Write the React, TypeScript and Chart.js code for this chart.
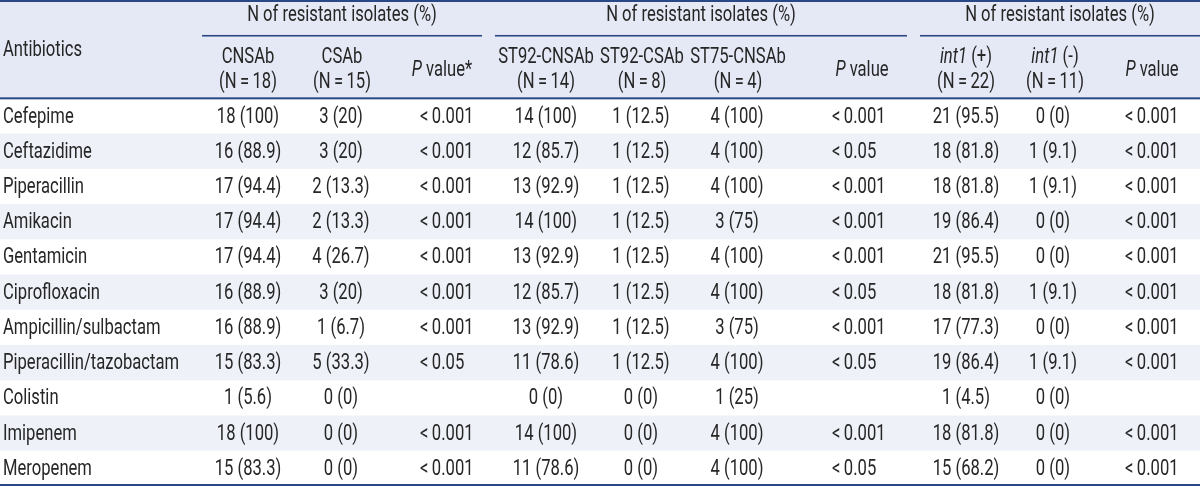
import React, { useEffect, useRef } from "react";
import { Chart, registerables } from "chart.js";

Chart.register(...registerables);

// ---------------- data ----------------
const antibiotics = [
  "Cefepime",
  "Ceftazidime",
  "Piperacillin",
  "Amikacin",
  "Gentamicin",
  "Ciprofloxacin",
  "Ampicillin/sulbactam",
  "Piperacillin/tazobactam",
  "Colistin",
  "Imipenem",
  "Meropenem",
];

const groupTitles = [
  "N of resistant isolates (%)",
  "N of resistant isolates (%)",
  "N of resistant isolates (%)",
];

const cnsabN = [18, 16, 17, 17, 17, 16, 16, 15, 1, 18, 15];
const cnsabPct = [100, 88.9, 94.4, 94.4, 94.4, 88.9, 88.9, 83.3, 5.6, 100, 83.3];
const csabN = [3, 3, 2, 2, 4, 3, 1, 5, 0, 0, 0];
const csabPct = [20, 20, 13.3, 13.3, 26.7, 20, 6.7, 33.3, 0, 0, 0];
const pValue1 = ["<0.001", "<0.001", "<0.001", "<0.001", "<0.001", "<0.001", "<0.001", "<0.05", "", "<0.001", "<0.001"];

const st92cnsabN = [14, 12, 13, 14, 13, 12, 13, 11, 0, 14, 11];
const st92cnsabPct = [100, 85.7, 92.9, 100, 92.9, 85.7, 92.9, 78.6, 0, 100, 78.6];
const st92csabN = [1, 1, 1, 1, 1, 1, 1, 1, 0, 0, 0];
const st92csabPct = [12.5, 12.5, 12.5, 12.5, 12.5, 12.5, 12.5, 12.5, 0, 0, 0];
const st75cnsabN = [4, 4, 4, 3, 4, 4, 3, 4, 1, 4, 4];
const st75cnsabPct = [100, 100, 100, 75, 100, 100, 75, 100, 25, 100, 100];
const pValue2 = ["<0.001", "<0.05", "<0.001", "<0.001", "<0.001", "<0.05", "<0.001", "<0.05", "", "<0.001", "<0.05"];

const int1PosN = [21, 18, 18, 19, 21, 18, 17, 19, 1, 18, 15];
const int1PosPct = [95.5, 81.8, 81.8, 86.4, 95.5, 81.8, 77.3, 86.4, 4.5, 81.8, 68.2];
const int1NegN = [0, 1, 1, 0, 0, 1, 0, 1, 0, 0, 0];
const int1NegPct = [0, 9.1, 9.1, 0, 0, 9.1, 0, 9.1, 0, 0, 0];
const pValue3 = ["<0.001", "<0.001", "<0.001", "<0.001", "<0.001", "<0.001", "<0.001", "<0.001", "", "<0.001", "<0.001"];

const firstHeader = "Antibiotics";

type Seg = { t: string; i?: boolean };
const colHeaders: Seg[][][] = [
  [[{ t: "CNSAb" }], [{ t: "(N\u2009=\u200918)" }]],
  [[{ t: "CSAb" }], [{ t: "(N\u2009=\u200915)" }]],
  [[{ t: "P", i: true }, { t: " value*" }]],
  [[{ t: "ST92-CNSAb" }], [{ t: "(N\u2009=\u200914)" }]],
  [[{ t: "ST92-CSAb" }], [{ t: "(N\u2009=\u20098)" }]],
  [[{ t: "ST75-CNSAb" }], [{ t: "(N\u2009=\u20094)" }]],
  [[{ t: "P", i: true }, { t: " value" }]],
  [[{ t: "int1", i: true }, { t: " (+)" }], [{ t: "(N\u2009=\u200922)" }]],
  [[{ t: "int1", i: true }, { t: " (-)" }], [{ t: "(N\u2009=\u200911)" }]],
  [[{ t: "P", i: true }, { t: " value" }]],
];

const fmt = (n: number[], p: number[]) => n.map((v, i) => `${v} (${p[i]})`);
const pv = (a: string[]) => a.map((s) => s.replace("<", "<\u2009"));

const columnCells: string[][] = [
  fmt(cnsabN, cnsabPct),
  fmt(csabN, csabPct),
  pv(pValue1),
  fmt(st92cnsabN, st92cnsabPct),
  fmt(st92csabN, st92csabPct),
  fmt(st75cnsabN, st75cnsabPct),
  pv(pValue2),
  fmt(int1PosN, int1PosPct),
  fmt(int1NegN, int1NegPct),
  pv(pValue3),
];

// ---------------- layout (table units) ----------------
const TABLE_W = 1200;
const HEADER_ROWS = 2.79;
const headerCenters = [248, 342, 442, 546, 642, 738, 862, 966, 1055, 1152];
const cellAnchors = [248, 341, 420, 546, 641, 737, 832, 966, 1053, 1125];
const cellAlign: CanvasTextAlign[] = ["center", "center", "left", "center", "center", "center", "left", "center", "center", "left"];
const groupSpans = [
  [202, 482],
  [495, 907],
  [920, 1200],
];
const firstColX = 3;
const Y_GROUP = -2.36;
const Y_GROUP_LINE = -1.77;
const Y_SUB1 = -1.17;
const Y_SUB2 = -0.45;
const Y_SUBMID = -0.8;
const Y_FIRST = -1.36;

const FONT_FAMILY = 'Roboto, "Liberation Sans", sans-serif';
const FONT_SIZE = 22;
const SX = 0.755;
const TEXT_COLOR = "#262626";
const LINE_COLOR = "#2a4886";
const HEADER_BG = "#e5e9f5";
const STRIPE_BG = "#eef1f8";

const tablePlugin = {
  id: "tablePlugin",
  beforeDraw(chart: any) {
    const { ctx, scales } = chart;
    const x = scales.x;
    const y = scales.y;
    const left = x.getPixelForValue(0);
    const right = x.getPixelForValue(TABLE_W);
    ctx.save();
    ctx.fillStyle = "#ffffff";
    ctx.fillRect(left, y.getPixelForValue(-HEADER_ROWS), right - left, y.getPixelForValue(antibiotics.length) - y.getPixelForValue(-HEADER_ROWS));
    ctx.fillStyle = HEADER_BG;
    ctx.fillRect(left, y.getPixelForValue(-HEADER_ROWS), right - left, y.getPixelForValue(0) - y.getPixelForValue(-HEADER_ROWS));
    ctx.fillStyle = STRIPE_BG;
    antibiotics.forEach((_, i) => {
      if (i % 2 === 1) {
        const t = y.getPixelForValue(i);
        const b = y.getPixelForValue(i + 1);
        ctx.fillRect(left, t, right - left, b - t);
      }
    });
    ctx.restore();
  },
  afterDraw(chart: any) {
    const { ctx, scales } = chart;
    const x = scales.x;
    const y = scales.y;
    const left = x.getPixelForValue(0);
    const right = x.getPixelForValue(TABLE_W);
    const font = (it?: boolean) => `${it ? "italic " : ""}${FONT_SIZE}px ${FONT_FAMILY}`;

    const measure = (t: string, it?: boolean) => {
      ctx.font = font(it);
      return ctx.measureText(t).width * SX;
    };
    const put = (t: string, px: number, py: number, align: CanvasTextAlign, it?: boolean) => {
      ctx.save();
      ctx.font = font(it);
      ctx.textAlign = align;
      ctx.textBaseline = "middle";
      ctx.translate(px, py);
      ctx.scale(SX, 1);
      ctx.fillText(t, 0, 0);
      ctx.restore();
    };
    const drawSegs = (segs: Seg[], cx: number, cy: number) => {
      const widths = segs.map((s) => measure(s.t, s.i));
      const total = widths.reduce((a, b) => a + b, 0);
      let px = cx - total / 2;
      segs.forEach((s, k) => {
        put(s.t, px, cy, "left", s.i);
        px += widths[k];
      });
    };

    ctx.save();
    ctx.fillStyle = LINE_COLOR;
    const top = y.getPixelForValue(-HEADER_ROWS);
    const hb = y.getPixelForValue(0);
    const bot = y.getPixelForValue(antibiotics.length);
    ctx.fillRect(left, top, right - left, 2);
    ctx.fillRect(left, hb - 1, right - left, 2);
    ctx.fillRect(left, bot - 2, right - left, 2);
    groupSpans.forEach(([a, b]) => {
      const gy = y.getPixelForValue(Y_GROUP_LINE);
      ctx.fillRect(x.getPixelForValue(a), gy - 1, x.getPixelForValue(b) - x.getPixelForValue(a), 1.6);
    });

    ctx.fillStyle = TEXT_COLOR;
    put(firstHeader, x.getPixelForValue(firstColX), y.getPixelForValue(Y_FIRST), "left");
    groupTitles.forEach((t, g) => {
      const [a, b] = groupSpans[g];
      drawSegs([{ t }], x.getPixelForValue((a + b) / 2), y.getPixelForValue(Y_GROUP));
    });
    colHeaders.forEach((lines, c) => {
      const cx = x.getPixelForValue(headerCenters[c]);
      if (lines.length === 1) {
        drawSegs(lines[0], cx, y.getPixelForValue(Y_SUBMID));
      } else {
        drawSegs(lines[0], cx, y.getPixelForValue(Y_SUB1));
        drawSegs(lines[1], cx, y.getPixelForValue(Y_SUB2));
      }
    });

    antibiotics.forEach((name, i) => {
      const cy = y.getPixelForValue(i + 0.53);
      put(name, x.getPixelForValue(firstColX), cy, "left");
      columnCells.forEach((cells, c) => {
        const txt = cells[i];
        if (!txt) return;
        put(txt, x.getPixelForValue(cellAnchors[c]), cy, cellAlign[c]);
      });
    });
    ctx.restore();
  },
};

export default function App() {
  const ref = useRef<HTMLCanvasElement | null>(null);
  useEffect(() => {
    if (!ref.current) return;
    const chart = new Chart(ref.current, {
      type: "scatter",
      data: { datasets: [{ data: [], showLine: false }] },
      options: {
        animation: false,
        responsive: false,
        maintainAspectRatio: false,
        devicePixelRatio: 1,
        layout: { padding: 0 },
        plugins: { legend: { display: false }, tooltip: { enabled: false } },
        scales: {
          x: { type: "linear", min: 0, max: TABLE_W, display: false },
          y: { type: "linear", min: -HEADER_ROWS, max: antibiotics.length, reverse: true, display: false },
        },
      },
      plugins: [tablePlugin],
    });
    return () => chart.destroy();
  }, []);
  return (
    <div style={{ position: "absolute", left: 0, top: 0, width: 1200, height: 486, background: "#fff" }}>
      <canvas ref={ref} width={1200} height={486} style={{ display: "block", width: 1200, height: 486 }} />
    </div>
  );
}
